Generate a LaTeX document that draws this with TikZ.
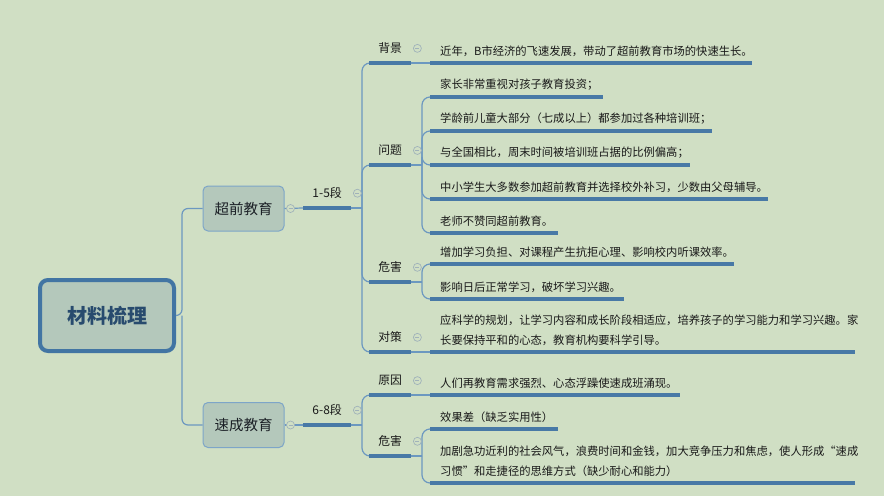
\documentclass[tikz,border=0pt]{standalone}
\usepackage{fontspec}
\newfontfamily\cjk{Noto Sans CJK SC}
\definecolor{bgc}{RGB}{208,223,196}
\definecolor{lineblue}{RGB}{72,121,166}
\definecolor{connblue}{RGB}{108,152,192}
\definecolor{boxfill}{RGB}{180,200,187}
\definecolor{boxdraw}{RGB}{125,165,200}
\definecolor{rootdraw}{RGB}{66,117,163}
\definecolor{roottext}{RGB}{40,75,110}
\definecolor{colgray}{RGB}{160,178,186}
\definecolor{txt}{RGB}{25,25,25}
\tikzset{
  uline/.style={line width=3.6pt, draw=lineblue},
  conn/.style={line width=1.2pt, draw=connblue, rounded corners=8pt},
  leaf/.style={anchor=south west, inner xsep=0pt, inner ysep=6.5pt, align=left,
    font=\cjk\fontsize{11.3}{20}\selectfont, text=txt},
  lbl/.style={anchor=south west, inner xsep=0pt, inner ysep=9pt, minimum width=42pt,
    font=\cjk\fontsize{11.8}{14}\selectfont, text=txt},
  seg/.style={anchor=south west, inner xsep=0pt, inner ysep=9pt, minimum width=48pt,
    font=\cjk\fontsize{12}{14}\selectfont, text=txt},
  box/.style={rectangle, rounded corners=5pt, fill=boxfill, draw=boxdraw, line width=1pt,
    minimum width=81pt, minimum height=45pt, font=\cjk\fontsize{14.5}{16}\selectfont, text=txt!85!roottext},
  root/.style={rectangle, rounded corners=8pt, fill=boxfill, draw=rootdraw, line width=4pt,
    minimum width=134pt, minimum height=71pt, font=\cjk\bfseries\fontsize{20}{22}\selectfont, text=roottext},
  coll/.style={circle, draw=colgray, fill=bgc, line width=0.7pt, minimum size=8pt, inner sep=0pt,
    path picture={\draw[colgray, line width=0.7pt] ([xshift=-2pt]path picture bounding box.center) -- ([xshift=2pt]path picture bounding box.center);}},
}
\begin{document}
\begin{tikzpicture}[x=1pt,y=-1pt]
\fill[bgc] (0,0) rectangle (884,496);
\useasboundingbox (0,0) rectangle (884,496);

% root and main branches
\node[root] (root) at (107,315.5) {材料梳理};
\node[box] (b1) at (243.5,208.5) {超前教育};
\node[box] (b2) at (243.5,425) {速成教育};
\coordinate (j0) at (182,315.5);
\draw[conn, rounded corners=6pt] (root.east) -- (j0) |- (b1.west);
\draw[conn, rounded corners=6pt] (j0) |- (b2.west);

% segment nodes
\node[seg] (s1) at (303,208) {1-5段};
\node[seg] (s2) at (303,425) {6-8段};
\draw[conn] (b1.east) -- (s1.south west);
\draw[conn] (b2.east) -- (s2.south west);

% labels of branch 1
\node[lbl] (bj) at (369,63) {背景};
\node[lbl] (wt) at (369,165) {问题};
\node[lbl] (wh) at (369,282) {危害};
\node[lbl] (dc) at (369,352) {对策};
% labels of branch 2
\node[lbl] (yy) at (369,395) {原因};
\node[lbl] (sh) at (369,456) {危害};

\coordinate (j1) at (362,208);
\coordinate (j2) at (362,425);
\draw[conn] (s1.south east) -- (j1);
\foreach \n in {bj,wt,wh,dc} \draw[conn] (j1) |- (\n.south west);
\draw[conn] (s2.south east) -- (j2);
\foreach \n in {yy,sh} \draw[conn] (j2) |- (\n.south west);

% leaves
\node[leaf, text width=312pt] (bj1) at (440,63) {近年，B市经济的飞速发展，带动了超前教育市场的快速生长。};
\node[leaf, text width=163pt] (wt1) at (440,97) {家长非常重视对孩子教育投资；};
\node[leaf, text width=272pt] (wt2) at (440,131) {学龄前儿童大部分（七成以上）都参加过各种培训班；};
\node[leaf, text width=250pt] (wt3) at (440,165) {与全国相比，周末时间被培训班占据的比例偏高；};
\node[leaf, text width=328pt] (wt4) at (440,199) {中小学生大多数参加超前教育并选择校外补习，少数由父母辅导。};
\node[leaf, text width=118pt] (wt5) at (440,233) {老师不赞同超前教育。};
\node[leaf, text width=294pt] (wh1) at (440,264) {增加学习负担、对课程产生抗拒心理、影响校内听课效率。};
\node[leaf, text width=184pt] (wh2) at (440,299) {影响日后正常学习，破坏学习兴趣。};
\node[leaf, text width=415pt] (dc1) at (440,352) {应科学的规划，让学习内容和成长阶段相适应，培养孩子的学习能力和学习兴趣。家\\长要保持平和的心态，教育机构要科学引导。};
\node[leaf, text width=240pt] (yy1) at (440,395) {人们再教育需求强烈、心态浮躁使速成班涌现。};
\node[leaf, text width=118pt] (sh1) at (440,429) {效果差（缺乏实用性）};
\node[leaf, text width=415pt] (sh2) at (440,483) {加剧急功近利的社会风气，浪费时间和金钱，加大竞争压力和焦虑，使人形成“速成\\习惯”和走捷径的思维方式（缺少耐心和能力）};

% label-to-leaf connectors
\draw[conn] (bj.south east) -- ([xshift=-10pt]bj1.south west);
\draw[conn] (dc.south east) -- ([xshift=-10pt]dc1.south west);
\draw[conn] (yy.south east) -- ([xshift=-10pt]yy1.south west);
\coordinate (kwt) at (422,165);
\coordinate (kwh) at (422,282);
\coordinate (ksh) at (422,456);
\draw[conn] (wt.south east) -- (kwt);
\foreach \n in {wt1,wt2,wt3,wt4,wt5} \draw[conn] (kwt) |- ([xshift=-10pt]\n.south west);
\draw[conn] (wh.south east) -- (kwh);
\foreach \n in {wh1,wh2} \draw[conn] (kwh) |- ([xshift=-10pt]\n.south west);
\draw[conn] (sh.south east) -- (ksh);
\foreach \n in {sh1,sh2} \draw[conn] (ksh) |- ([xshift=-10pt]\n.south west);

% thick underlines
\foreach \n in {s1,s2,bj,wt,wh,dc,yy,sh} \draw[uline] (\n.south west) -- (\n.south east);
\foreach \n in {bj1,wt1,wt2,wt3,wt4,wt5,wh1,wh2,dc1,yy1,sh1,sh2}
  \draw[uline] ([xshift=-10pt]\n.south west) -- (\n.south east);

% collapse markers
\node[coll] (c1) at ([xshift=6pt]b1.east) {};
\node[coll] (c2) at ([xshift=6pt]b2.east) {};
\foreach \n in {s1,s2,bj,wt,wh,dc,yy,sh} \node[coll] (c\n) at ([xshift=6pt]\n.east) {};
\end{tikzpicture}
\end{document}
